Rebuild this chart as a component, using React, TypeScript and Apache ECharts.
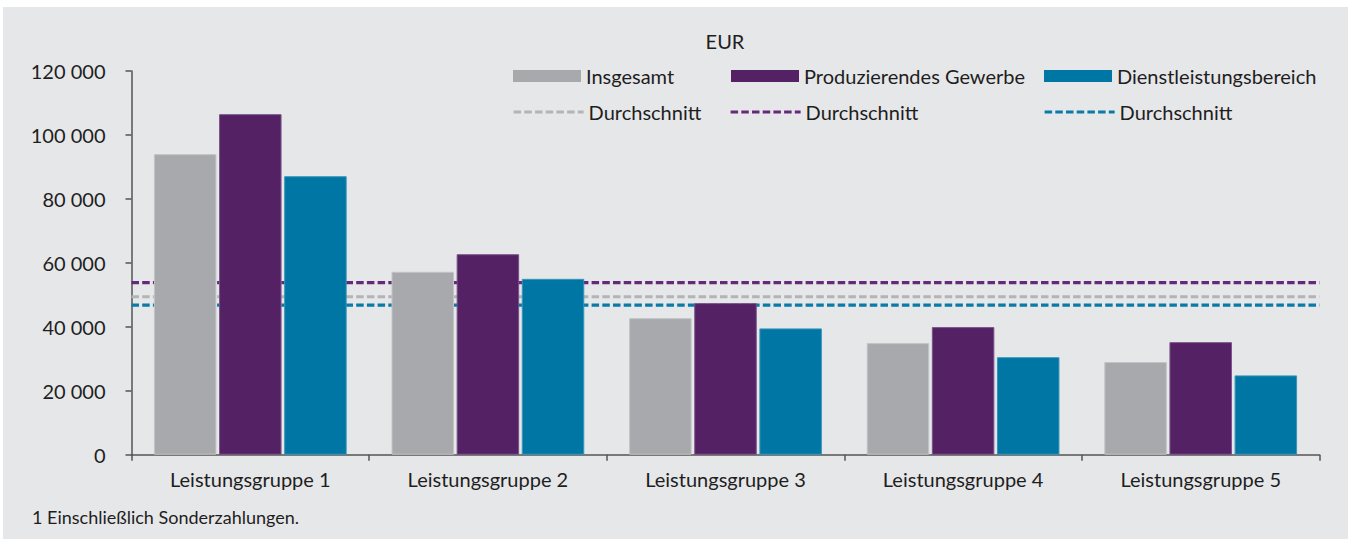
import React, { useEffect, useRef } from "react";
import * as echarts from "echarts";

const categories = [
  "Leistungsgruppe 1",
  "Leistungsgruppe 2",
  "Leistungsgruppe 3",
  "Leistungsgruppe 4",
  "Leistungsgruppe 5",
];
const insgesamt = [94000, 57200, 42700, 34900, 29000];
const produzierend = [106500, 62700, 47400, 39900, 35200];
const dienstleistung = [87100, 55000, 39500, 30500, 24800];
const avgInsgesamt = 49400;
const avgProduzierend = 53800;
const avgDienstleistung = 46800;
const yTicks = [0, 20000, 40000, 60000, 80000, 100000, 120000];

const FONT = "Lato, 'Open Sans', sans-serif";
const TEXT = "#1e1e1e";
const GRAY = "#a8a9ac";
const PURPLE = "#542164";
const TEAL = "#0076a4";
const DASH = [7.5, 3.2];

export default function App() {
  const ref = useRef<HTMLDivElement>(null);
  useEffect(() => {
    if (!ref.current) return;
    const chart = echarts.init(ref.current, null, { renderer: "svg" });
    const fmt = (v: number) =>
      String(Math.round(v)).replace(/\B(?=(\d{3})+(?!\d))/g, " ");
    const barSeries = (name: string, data: number[], color: string, border: string) => ({
      type: "bar",
      name,
      data,
      barWidth: 62.5,
      barGap: "4.2%",
      z: 3,
      itemStyle: { color, borderColor: border, borderWidth: 1 },
    });
    const lineSeries = (name: string, value: number, color: string) => ({
      type: "line",
      name,
      xAxisIndex: 1,
      data: [
        [0, value],
        [1, value],
      ],
      symbol: "none",
      z: 1,
      lineStyle: { color, width: 3.2, type: DASH },
      itemStyle: { color },
    });
    const legendBase = {
      padding: 0,
      textStyle: { fontFamily: FONT, fontSize: 20, color: TEXT },
      formatter: (n: string) => n.trim(),
      selectedMode: false,
    };
    const barLegends = [
      { name: "Insgesamt", left: 513 },
      { name: "Produzierendes Gewerbe", left: 731 },
      { name: "Dienstleistungsbereich", left: 1044 },
    ];
    const lineLegends = [
      { name: "Durchschnitt", left: 512 },
      { name: "Durchschnitt ", left: 729 },
      { name: "Durchschnitt  ", left: 1043 },
    ];
    chart.setOption({
      animation: false,
      backgroundColor: "#ffffff",
      graphic: [
        {
          type: "rect",
          shape: { x: 3, y: 7, width: 1345, height: 532 },
          style: { fill: "#e6e7e9" },
          z: -10,
          silent: true,
        },
        {
          type: "text",
          x: 725,
          y: 41,
          style: {
            text: "EUR",
            fontFamily: FONT,
            fontSize: 20,
            fill: TEXT,
            textAlign: "center",
            textVerticalAlign: "middle",
          },
        },
        {
          type: "text",
          x: 32,
          y: 517,
          style: {
            text: "1 Einschließlich Sonderzahlungen.",
            fontFamily: FONT,
            fontSize: 18,
            fill: TEXT,
            textAlign: "left",
            textVerticalAlign: "middle",
          },
        },
      ],
      legend: [
        ...barLegends.map((l) => ({
          ...legendBase,
          data: [{ name: l.name, icon: "rect" }],
          left: l.left,
          top: 66,
          itemWidth: 68,
          itemHeight: 12,
          itemStyle: { borderWidth: 0 },
        })),
        ...lineLegends.map((l) => ({
          ...legendBase,
          data: [{ name: l.name }],
          left: l.left,
          top: 102,
          itemWidth: 70,
          itemHeight: 12,
          itemStyle: { opacity: 0 },
          lineStyle: { width: 3.2, type: DASH, opacity: 1 },
        })),
      ],
      grid: { left: 131.5, right: 30.5, top: 71, bottom: 88.3 },
      xAxis: [
        {
          type: "category",
          data: categories,
          axisLine: { lineStyle: { color: "#555555", width: 1.5 } },
          axisTick: { show: true, length: 6, lineStyle: { color: "#555555", width: 1.5 } },
          axisLabel: { fontFamily: FONT, fontSize: 20, color: TEXT, margin: 14 },
        },
        { type: "value", min: 0, max: 1, show: false },
      ],
      yAxis: {
        type: "value",
        min: yTicks[0],
        max: yTicks[yTicks.length - 1],
        interval: yTicks[1] - yTicks[0],
        axisLine: { show: true, lineStyle: { color: "#555555", width: 1.5 } },
        axisTick: { show: true, length: 6, lineStyle: { color: "#555555", width: 1.5 } },
        splitLine: { show: false },
        axisLabel: {
          fontFamily: FONT,
          fontSize: 20,
          color: TEXT,
          margin: 26,
          formatter: (v: number) => fmt(v),
        },
      },
      series: [
        barSeries("Insgesamt", insgesamt, GRAY, "#c3c4c6"),
        barSeries("Produzierendes Gewerbe", produzierend, PURPLE, "#7a5288"),
        barSeries("Dienstleistungsbereich", dienstleistung, TEAL, "#3a95ba"),
        lineSeries("Durchschnitt", avgInsgesamt, "#b3b4b6"),
        lineSeries("Durchschnitt ", avgProduzierend, "#65287a"),
        lineSeries("Durchschnitt  ", avgDienstleistung, "#0a7aa8"),
      ],
    });
    return () => chart.dispose();
  }, []);
  return (
    <div
      ref={ref}
      style={{ position: "absolute", left: 0, top: 0, width: 1350, height: 543 }}
    />
  );
}
